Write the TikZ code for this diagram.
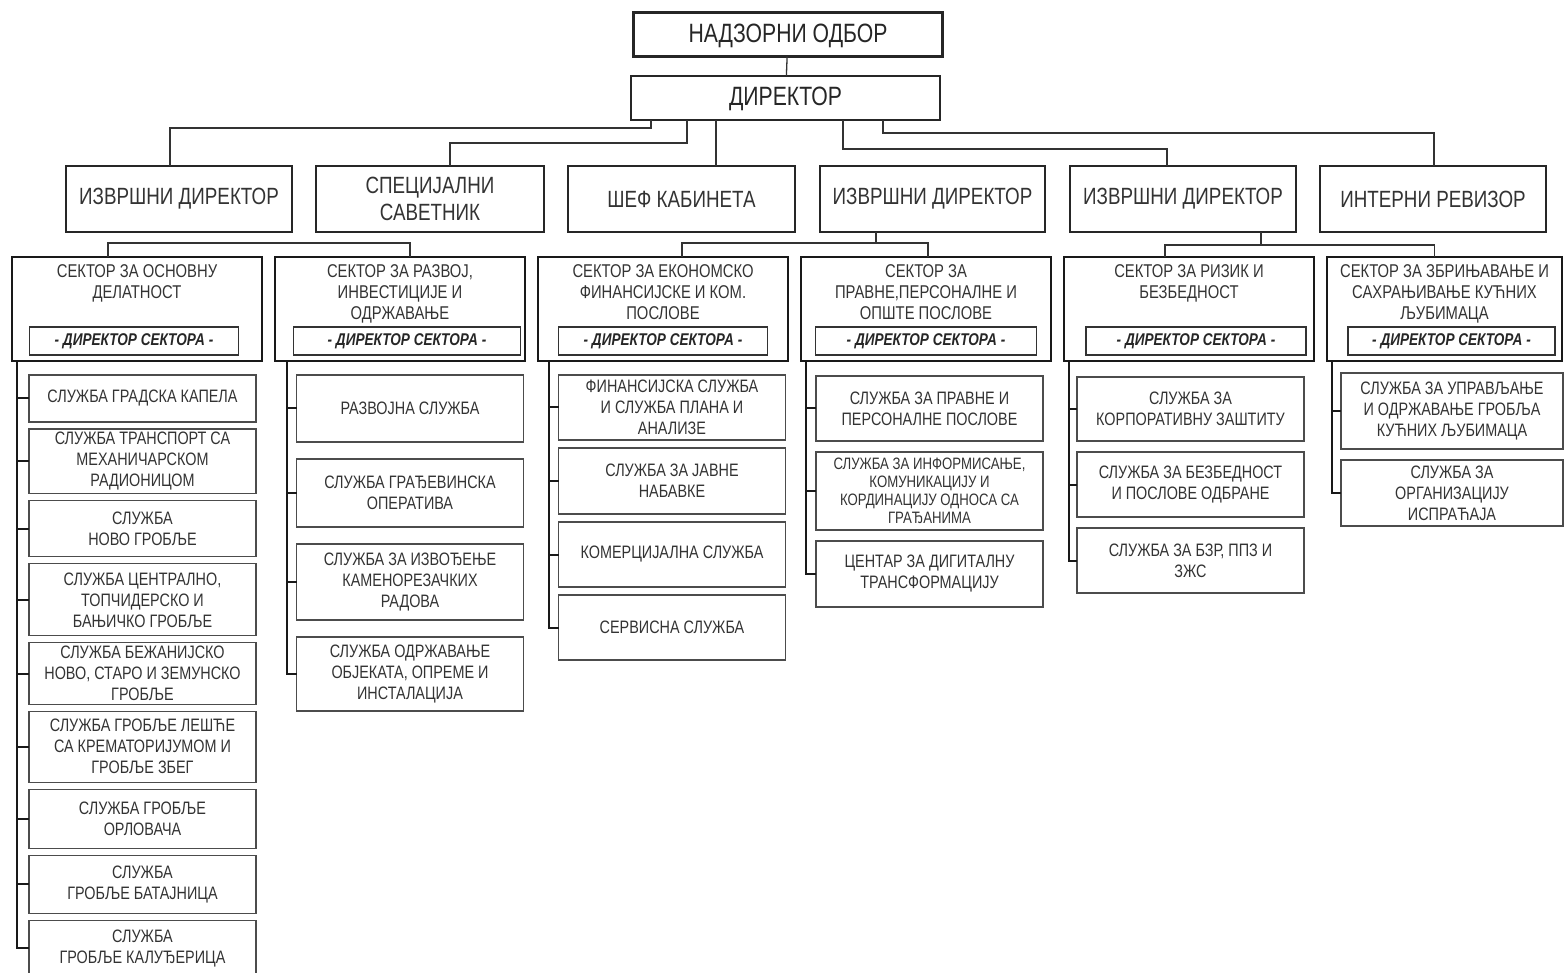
\documentclass[tikz,border=0pt]{standalone}
\usepackage{fontspec}
\setmainfont[FakeStretch=0.8]{Liberation Sans}
\usetikzlibrary{positioning}

\begin{document}
\begin{tikzpicture}[x=1pt, y=-1pt,
    topbox/.style={draw=black!85, line width=2.4pt, outer sep=0pt, minimum width=309, minimum height=44, text height=18pt, text depth=2pt, font=\fontsize{26.5}{28}\selectfont, text=black!85},
    headbox/.style={draw=black!85, line width=2pt, outer sep=0pt, minimum width=226, minimum height=66, align=center, font=\fontsize{23.5}{27}\selectfont, text=black!80},
    secbox/.style={draw=black!90, line width=2pt, outer sep=0pt, minimum width=250, minimum height=104},
    sectext/.style={align=center, font=\fontsize{18.5}{21}\selectfont, text=black!80, inner sep=0pt},
    dirbox/.style={draw=black!80, line width=1.2pt, outer sep=0pt, minimum height=28, font=\fontsize{17}{19}\selectfont\bfseries\itshape, text=black!85},
    servbox/.style={draw=black!70, line width=1.3pt, outer sep=0pt, minimum width=227, align=center, font=\fontsize{18}{21}\selectfont, text=black!80},
    link/.style={draw=black!80, line width=1.3pt},
    trunk/.style={draw=black!90, line width=2pt}]
    \useasboundingbox (0,0) rectangle (1564,973);

    \node[topbox]    (nadzor)    at (788,34.5) {НАДЗОРНИ ОДБОР};
    \node[topbox]    (dir)       at (785.5,98) {ДИРЕКТОР};

    \node[headbox]                      (izvrs1)    at (179,199) {ИЗВРШНИ ДИРЕКТОР};
    \node[headbox, minimum width=228]   (savetnik)  [right=24pt of izvrs1]{СПЕЦИЈАЛНИ\\САВЕТНИК};
    \node[headbox, minimum width=227]   (kabinet)   [right=24pt of savetnik]{ШЕФ КАБИНЕТА};
    \node[headbox, minimum width=225]   (izvrs2)    [right=25pt of kabinet]{ИЗВРШНИ ДИРЕКТОР};
    \node[headbox]                      (izvrs3)    [right=25pt of izvrs2]{ИЗВРШНИ ДИРЕКТОР};
    \node[headbox]                      (revizor)   [right=24pt of izvrs3]{ИНТЕРНИ РЕВИЗОР};

    \node[secbox]                       (s1)    at (137,309) {};
    \node[secbox]                       (s2)    [right=13pt of s1]{};
    \node[secbox]                       (s3)    [right=13pt of s2]{};
    \node[secbox]                       (s4)    [right=13pt of s3]{};
    \node[secbox]                       (s5)    [right=13pt of s4]{};
    \node[secbox, minimum width=235]    (s6)    [right=13pt of s5]{};

    \node[sectext, below=7pt of s1.north]   (s1t) {СЕКТОР ЗА ОСНОВНУ\\ДЕЛАТНОСТ};
    \node[sectext, below=7pt of s2.north]   (s2t) {СЕКТОР ЗА РАЗВОЈ,\\ИНВЕСТИЦИЈЕ И\\ОДРЖАВАЊЕ};
    \node[sectext, below=7pt of s3.north]   (s3t) {СЕКТОР ЗА ЕКОНОМСКО\\ФИНАНСИЈСКЕ И КОМ.\\ПОСЛОВЕ};
    \node[sectext, below=7pt of s4.north]   (s4t) {СЕКТОР ЗА\\ПРАВНЕ,ПЕРСОНАЛНЕ И\\ОПШТЕ ПОСЛОВЕ};
    \node[sectext, below=7pt of s5.north]   (s5t) {СЕКТОР ЗА РИЗИК И\\БЕЗБЕДНОСТ};
    \node[sectext, below=7pt of s6.north]   (s6t) {СЕКТОР ЗА ЗБРИЊАВАЊЕ И\\САХРАЊИВАЊЕ КУЋНИХ\\ЉУБИМАЦА};

    \node[dirbox, minimum width=209, above=6pt of s1.south, xshift=-3pt]    (d1) {- ДИРЕКТОР СЕКТОРА -};
    \node[dirbox, minimum width=227, above=6pt of s2.south, xshift=7pt]     (d2) {- ДИРЕКТОР СЕКТОРА -};
    \node[dirbox, minimum width=209, above=6pt of s3.south]                 (d3) {- ДИРЕКТОР СЕКТОРА -};
    \node[dirbox, minimum width=221, above=6pt of s4.south]                 (d4) {- ДИРЕКТОР СЕКТОРА -};
    \node[dirbox, minimum width=220, above=6pt of s5.south, xshift=7pt]     (d5) {- ДИРЕКТОР СЕКТОРА -};
    \node[dirbox, minimum width=207, above=6pt of s6.south, xshift=7pt]     (d6) {- ДИРЕКТОР СЕКТОРА -};

    \node[servbox, minimum height=47, anchor=north] (c11) at (142.5,375) {СЛУЖБА ГРАДСКА КАПЕЛА};
    \node[servbox, minimum height=62]   (c12)   [below=7pt of c11]{СЛУЖБА ТРАНСПОРТ СА\\МЕХАНИЧАРСКОМ\\РАДИОНИЦОМ};
    \node[servbox, minimum height=56]   (c13)   [below=7pt of c12]{СЛУЖБА\\НОВО ГРОБЉЕ};
    \node[servbox, minimum height=72]   (c14)   [below=7pt of c13]{СЛУЖБА ЦЕНТРАЛНО,\\ТОПЧИДЕРСКО И\\БАЊИЧКО ГРОБЉЕ};
    \node[servbox, minimum height=60]   (c15)   [below=7pt of c14]{СЛУЖБА БЕЖАНИЈСКО\\НОВО, СТАРО И ЗЕМУНСКО\\ГРОБЉЕ};
    \node[servbox, minimum height=71]   (c16)   [below=7pt of c15]{СЛУЖБА ГРОБЉЕ ЛЕШЋЕ\\СА КРЕМАТОРИЈУМОМ И\\ГРОБЉЕ ЗБЕГ};
    \node[servbox, minimum height=59]   (c17)   [below=7pt of c16]{СЛУЖБА ГРОБЉЕ\\ОРЛОВАЧА};
    \node[servbox, minimum height=58]   (c18)   [below=7pt of c17]{СЛУЖБА\\ГРОБЉЕ БАТАЈНИЦА};
    \node[servbox, minimum height=56]   (c19)   [below=7pt of c18]{СЛУЖБА\\ГРОБЉЕ КАЛУЂЕРИЦА};

    \node[servbox, minimum height=67, anchor=north] (c21) at (410,375) {РАЗВОЈНА СЛУЖБА};
    \node[servbox, minimum height=68]   (c22)   [below=17pt of c21]{СЛУЖБА ГРАЂЕВИНСКА\\ОПЕРАТИВА};
    \node[servbox, minimum height=76]   (c23)   [below=17pt of c22]{СЛУЖБА ЗА ИЗВОЂЕЊЕ\\КАМЕНОРЕЗАЧКИХ\\РАДОВА};
    \node[servbox, minimum height=74]   (c24)   [below=17pt of c23]{СЛУЖБА ОДРЖАВАЊЕ\\ОБЈЕКАТА, ОПРЕМЕ И\\ИНСТАЛАЦИЈА};

    \node[servbox, minimum height=65, anchor=north] (c31) at (672,375) {ФИНАНСИЈСКА СЛУЖБА\\И СЛУЖБА ПЛАНА И\\АНАЛИЗЕ};
    \node[servbox, minimum height=66]   (c32)   [below=8pt of c31]{СЛУЖБА ЗА ЈАВНЕ\\НАБАВКЕ};
    \node[servbox, minimum height=65]   (c33)   [below=8pt of c32]{КОМЕРЦИЈАЛНА СЛУЖБА};
    \node[servbox, minimum height=65]   (c34)   [below=8pt of c33]{СЕРВИСНА СЛУЖБА};

    \node[servbox, minimum height=65, anchor=north] (c41) at (929.5,376) {СЛУЖБА ЗА ПРАВНЕ И\\ПЕРСОНАЛНЕ ПОСЛОВЕ};
    \node[servbox, minimum height=78, font=\fontsize{16.5}{18}\selectfont]   (c42)   [below=11pt of c41]{СЛУЖБА ЗА ИНФОРМИСАЊЕ,\\КОМУНИКАЦИЈУ И\\КОРДИНАЦИЈУ ОДНОСА СА\\ГРАЂАНИМА};
    \node[servbox, minimum height=66]   (c43)   [below=11pt of c42]{ЦЕНТАР ЗА ДИГИТАЛНУ\\ТРАНСФОРМАЦИЈУ};

    \node[servbox, minimum height=64, anchor=north] (c51) at (1190.5,377) {СЛУЖБА ЗА\\КОРПОРАТИВНУ ЗАШТИТУ};
    \node[servbox, minimum height=65]   (c52)   [below=11pt of c51]{СЛУЖБА ЗА БЕЗБЕДНОСТ\\И ПОСЛОВЕ ОДБРАНЕ};
    \node[servbox, minimum height=65]   (c53)   [below=11pt of c52]{СЛУЖБА ЗА БЗР, ППЗ И\\ЗЖС};

    \node[servbox, minimum width=222, minimum height=76, anchor=north] (c61) at (1452,373) {СЛУЖБА ЗА УПРАВЉАЊЕ\\И ОДРЖАВАЊЕ ГРОБЉА\\КУЋНИХ ЉУБИМАЦА};
    \node[servbox, minimum width=222, minimum height=66]   (c62)   [below=11pt of c61]{СЛУЖБА ЗА\\ОРГАНИЗАЦИЈУ\\ИСПРАЋАЈА};

    \path[link] (nadzor) -- (dir);
    \path[link] ([xshift=-134.5pt]dir.south) -- ++(0,8) -| ([xshift=-9pt]izvrs1.north);
    \path[link] ([xshift=-98.5pt]dir.south) -- ++(0,23) -| ([xshift=20pt]savetnik.north);
    \path[link] ([xshift=-69.5pt]dir.south) -- ([xshift=-69.5pt]dir.south |- kabinet.north);
    \path[link] ([xshift=57.5pt]dir.south) -- ++(0,29) -| ([xshift=-16pt]izvrs3.north);
    \path[link] ([xshift=97.5pt]dir.south) -- ++(0,13) -| ([xshift=1pt]revizor.north);

    \path[link] ([xshift=-29pt]s1.north) -- ++(0,-14) -| ([xshift=10pt]s2.north);
    \path[link] ([xshift=-56.5pt]izvrs2.south) -- ++(0,11);
    \path[link] ([xshift=19pt]s3.north) -- ++(0,-14) -| ([xshift=2pt]s4.north);
    \path[link] ([xshift=78pt]izvrs3.south) -- ++(0,13);
    \path[link] ([xshift=-24pt]s5.north) -- ++(0,-12) -| ([xshift=-10pt]s6.north);

    \coordinate (t1) at ([xshift=5pt]s1.south west);
    \coordinate (t2) at ([xshift=12pt]s2.south west);
    \coordinate (t3) at ([xshift=11pt]s3.south west);
    \coordinate (t4) at ([xshift=5pt]s4.south west);
    \coordinate (t5) at ([xshift=5pt]s5.south west);
    \coordinate (t6) at ([xshift=5pt]s6.south west);

    \path[trunk] (t1) |- (c19.west);
    \foreach \k in {1,...,8} \path[trunk] (t1 |- c1\k.west) -- (c1\k.west);
    \path[trunk] (t2) |- (c24.west);
    \foreach \k in {1,...,3} \path[trunk] (t2 |- c2\k.west) -- (c2\k.west);
    \path[trunk] (t3) |- (c34.west);
    \foreach \k in {1,...,3} \path[trunk] (t3 |- c3\k.west) -- (c3\k.west);
    \path[trunk] (t4) |- (c43.west);
    \foreach \k in {1,2} \path[trunk] (t4 |- c4\k.west) -- (c4\k.west);
    \path[trunk] (t5) |- (c53.west);
    \foreach \k in {1,2} \path[trunk] (t5 |- c5\k.west) -- (c5\k.west);
    \path[trunk] (t6) |- (c62.west);
    \path[trunk] (t6 |- c61.west) -- (c61.west);
\end{tikzpicture}
\end{document}
